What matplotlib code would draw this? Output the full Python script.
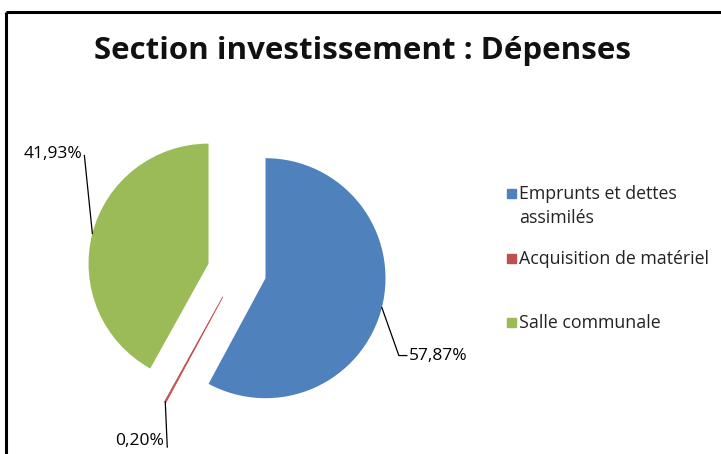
import numpy as np
import matplotlib
matplotlib.use("Agg")
import matplotlib.pyplot as plt
from matplotlib.patches import Rectangle

# ---- data ----
categories = ["Emprunts et dettes\nassimilés", "Acquisition de matériel", "Salle communale"]
values = [57.87, 0.20, 41.93]
value_labels = ["57,87%", "0,20%", "41,93%"]
colors = ["#4F81BD", "#C0504D", "#9BBB59"]
title = "Section investissement : Dépenses"

W, H = 721, 454
fig = plt.figure(figsize=(W / 100, H / 100), dpi=100)
ax = fig.add_axes([0, 0, 1, 1])

FONT = ["Open Sans", "DejaVu Sans"]

def py(y):
    return H - y

R = 120
wedges, _ = ax.pie(values, colors=colors, startangle=90, counterclock=False,
                   explode=[0.245 * R] * 3, center=(237, py(271)), radius=R,
                   wedgeprops=dict(linewidth=0.6, edgecolor="none"),
                   frame=True)
wedges[1].set_edgecolor(colors[1])
ax.set_xlim(0, W)
ax.set_ylim(0, H)
ax.set_aspect("equal")
ax.axis("off")

# frame
ax.plot([6, 6], [py(12), -10], color="black", lw=2.2, solid_capstyle="butt")
ax.plot([6, W + 10], [py(12), py(12)], color="black", lw=2.2, solid_capstyle="butt")

ax.text(362, py(51), title, ha="center", va="center", fontsize=22.5,
        fontweight="bold", family=FONT, color="#111111")

# leader offsets (pixels, y downward) and text placement
elbows = [(17, 48, 8), (2, 45, 0), (-8, -78, 0)]
for w, lab, (dx, dy, hx) in zip(wedges, value_labels, elbows):
    mid = np.deg2rad((w.theta1 + w.theta2) / 2)
    cx, cy = w.center
    x0 = cx + w.r * np.cos(mid)
    y0 = cy + w.r * np.sin(mid)
    x1, y1 = x0 + dx, y0 - dy
    ax.plot([x0, x1, x1 + hx], [y0, y1, y1], color="black", lw=0.9)
    if hx > 0:
        ax.text(x1 + hx + 2, y1, lab, ha="left", va="center", fontsize=12.5, family=FONT)
    elif dy > 0:
        ax.text(x1 - 3, y1 + 6, lab, ha="right", va="center", fontsize=12.5, family=FONT)
    else:
        ax.text(x1 - 2, y1 + 2, lab, ha="right", va="center", fontsize=12.5, family=FONT)

# legend (manual)
leg_y = [193, 258, 322]
for c, lab, y in zip(colors, categories, leg_y):
    ax.add_patch(Rectangle((507, py(y) - 4.5), 9, 9, color=c))
    ax.text(519, py(y) + 8, lab, ha="left", va="top", fontsize=12.8, family=FONT,
            linespacing=1.45, color="#222222")

fig.savefig("out.png", dpi=100)
